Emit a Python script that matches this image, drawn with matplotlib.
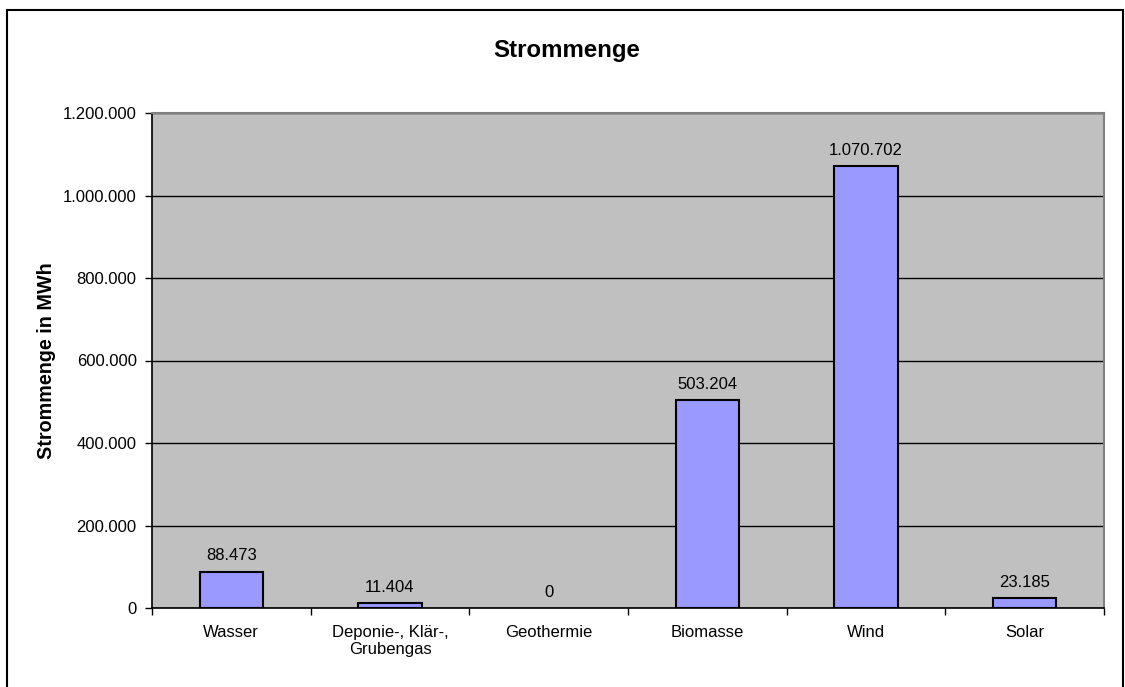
import matplotlib.pyplot as plt
from matplotlib.patches import Rectangle
from matplotlib.ticker import FuncFormatter, FixedLocator
import numpy as np

plt.rcParams['font.family'] = ['Liberation Sans', 'DejaVu Sans']

categories = ["Wasser", "Deponie-, Klär-,\nGrubengas", "Geothermie", "Biomasse", "Wind", "Solar"]
values = [88473, 11404, 0, 503204, 1070702, 23185]
yticks = [0, 200000, 400000, 600000, 800000, 1000000, 1200000]


def de_fmt(v, pos=None):
    # german thousands separator
    return f"{int(round(v)):,}".replace(",", ".")


W, H = 1125, 687
fig = plt.figure(figsize=(W / 100, H / 100), dpi=100)
fig.patch.set_facecolor('white')

# outer chart border (open at the bottom like the original)
fig.patches.append(Rectangle((6.5 / W, -0.05), (1123 - 6.5) / W, 1.05 - 9.5 / H,
                             transform=fig.transFigure, fill=False,
                             edgecolor='black', linewidth=1.5))

left, right, top, bottom = 152, 1104, 113, 608
ax = fig.add_axes([left / W, 1 - bottom / H, (right - left) / W, (bottom - top) / H])
ax.set_facecolor('#C0C0C0')

x = np.arange(len(categories))
edge_w = [1.5 if v > 0 else 0 for v in values]
ax.bar(x, values, width=0.40, color='#9999FF', edgecolor='black', linewidth=edge_w, zorder=3)

for xi, v in zip(x, values):
    ax.annotate(de_fmt(v), (xi, v), xytext=(0, 6), textcoords='offset points',
                ha='center', va='bottom', fontsize=12, color='black')

ax.set_xlim(-0.5, len(categories) - 0.5)
ax.set_ylim(0, 1200000)
ax.set_yticks(yticks)
ax.yaxis.set_major_formatter(FuncFormatter(de_fmt))
ax.grid(axis='y', color='black', linewidth=1, zorder=1)
ax.set_axisbelow(True)

ax.set_xticks(x)
ax.set_xticklabels(categories, fontsize=12, linespacing=1.15)
ax.xaxis.set_minor_locator(FixedLocator(np.arange(-0.5, len(categories), 1.0)))
ax.tick_params(axis='x', which='major', length=0, pad=12.5)
ax.tick_params(axis='x', which='minor', length=5, width=1, direction='out', color='black')
ax.tick_params(axis='y', length=5, width=1, direction='out', pad=6, labelsize=12)

for s in ['left', 'bottom']:
    ax.spines[s].set_color('black')
    ax.spines[s].set_linewidth(1.2)
for s in ['top', 'right']:
    ax.spines[s].set_color('#808080')
    ax.spines[s].set_linewidth(1.5)

ax.set_ylabel("Strommenge in MWh", fontsize=14.2, fontweight='bold')
ax.yaxis.set_label_coords(-(152 - 56) / (right - left), 0.5)

fig.text(567 / W, 1 - 51 / H, "Strommenge", ha='center', va='center',
         fontsize=17.3, fontweight='bold')

fig.savefig("out.png", dpi=100)
